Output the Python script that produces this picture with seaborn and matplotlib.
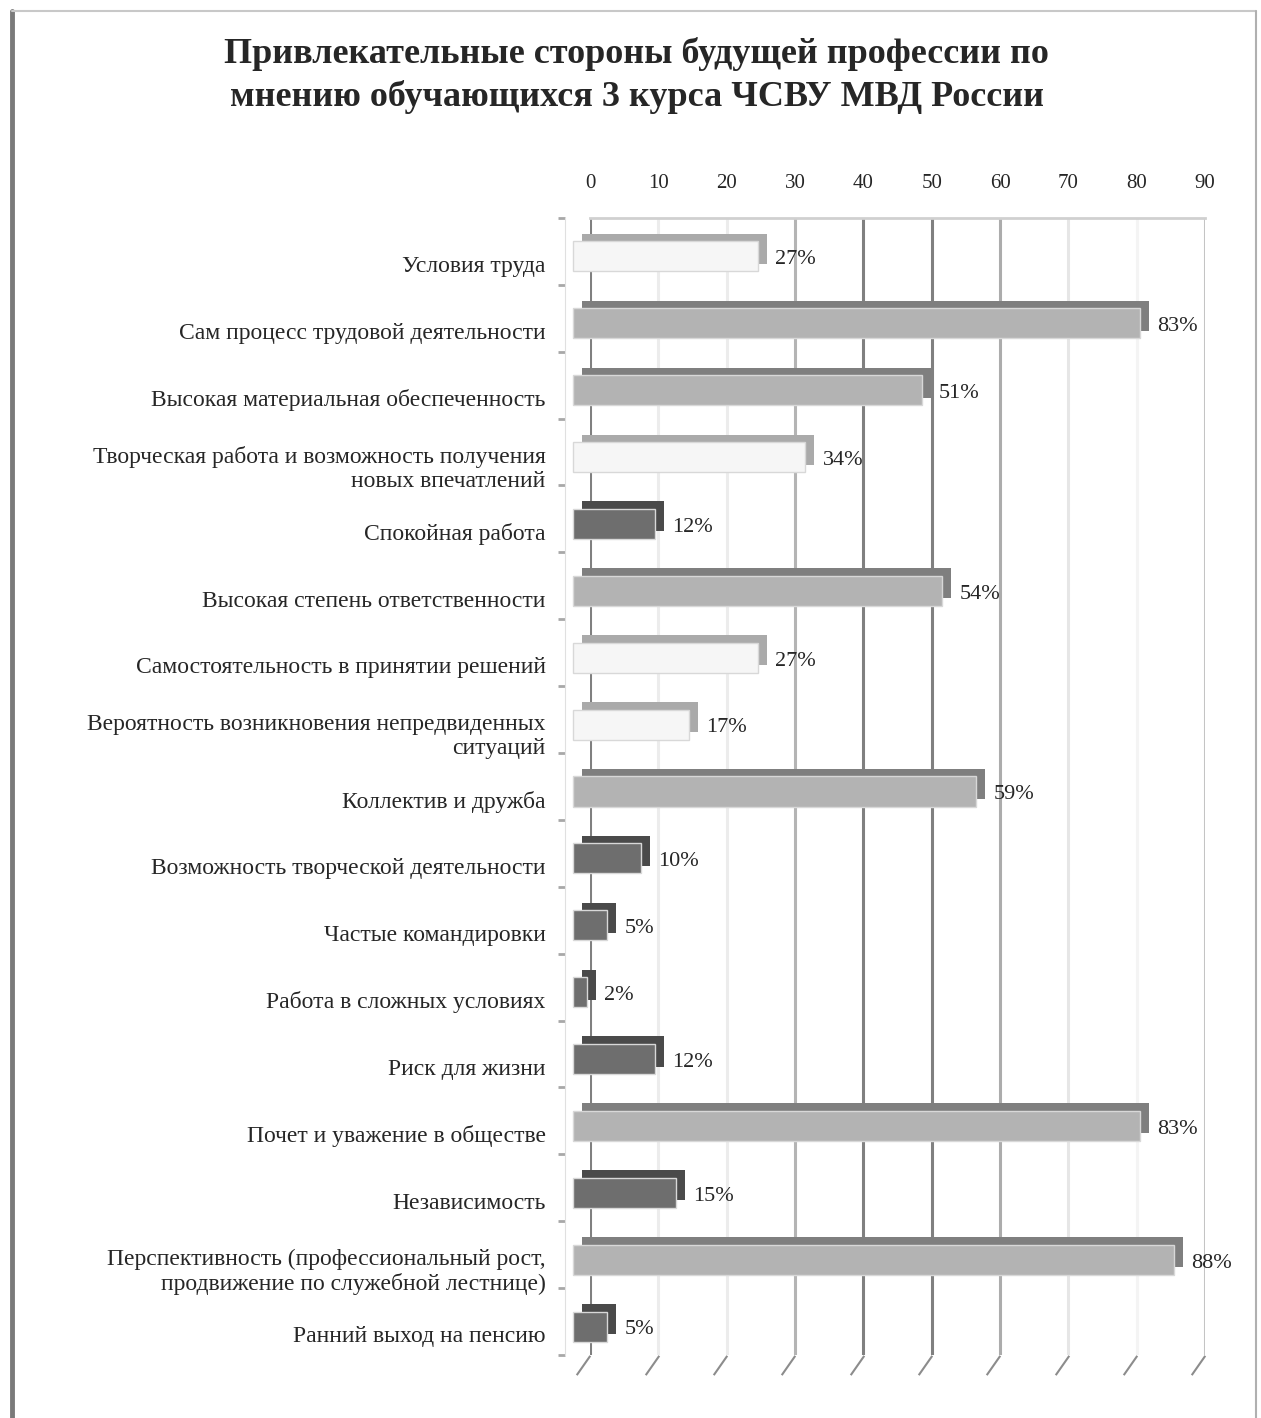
import numpy as np
import pandas as pd
import seaborn as sns
import matplotlib.pyplot as plt
from matplotlib.lines import Line2D
from matplotlib.transforms import ScaledTranslation

title = ("Привлекательные стороны будущей профессии по\n"
         "мнению обучающихся 3 курса ЧСВУ МВД России")

labels = [
    "Условия труда",
    "Сам процесс трудовой деятельности",
    "Высокая материальная обеспеченность",
    "Творческая работа и возможность получения\nновых впечатлений",
    "Спокойная работа",
    "Высокая степень ответственности",
    "Самостоятельность в принятии решений",
    "Вероятность возникновения непредвиденных\nситуаций",
    "Коллектив и дружба",
    "Возможность творческой деятельности",
    "Частые командировки",
    "Работа в сложных условиях",
    "Риск для жизни",
    "Почет и уважение в обществе",
    "Независимость",
    "Перспективность (профессиональный рост,\nпродвижение по служебной лестнице)",
    "Ранний выход на пенсию",
]
values = [27, 83, 51, 34, 12, 54, 27, 17, 59, 10, 5, 2, 12, 83, 15, 88, 5]
levels = ["средний", "высокий", "высокий", "средний", "низкий", "высокий",
          "средний", "средний", "высокий", "низкий", "низкий", "низкий",
          "низкий", "высокий", "низкий", "высокий", "низкий"]
ticks = [0, 10, 20, 30, 40, 50, 60, 70, 80, 90]

# front face / 3d depth colours per group
front_colors = {"низкий": "#6e6e6e", "средний": "#f6f6f6", "высокий": "#b3b3b3"}
depth_colors = {"низкий": "#4a4a4a", "средний": "#aaaaaa", "высокий": "#7f7f7f"}
grid_colors = ["#808080", "#ececec", "#ececec", "#b4b4b4", "#808080",
               "#808080", "#acacac", "#e6e6e6", "#f4f4f4", "#c4c4c4"]

df = pd.DataFrame({"label": labels, "value": values, "level": levels})

sns.set_style("white")
plt.rcParams["font.family"] = ["Liberation Serif", "DejaVu Serif"]

fig = plt.figure(figsize=(12.61, 14.18), dpi=100)
ax = fig.add_axes([0.468, 0.0444, 0.4877, 0.8019])

for t, c in zip(ticks, grid_colors):
    ax.axvline(t, color=c, lw=2.2, zorder=0)

# depth (back) of the bars
sns.barplot(data=df, x="value", y="label", hue="level", palette=depth_colors,
            dodge=False, width=0.45, errorbar=None, legend=False,
            saturation=1, linewidth=0, ax=ax)
depth_off = ax.transData + ScaledTranslation(-0.08, 0.025, fig.dpi_scale_trans)
for p in ax.patches:
    p.set_transform(depth_off)
    p.set_clip_on(False)
n = len(ax.patches)

# front face of the bars
sns.barplot(data=df, x="value", y="label", hue="level", palette=front_colors,
            dodge=False, width=0.45, errorbar=None, legend=False,
            saturation=1, linewidth=1, edgecolor="#d8d8d8", ax=ax)
front_off = ax.transData + ScaledTranslation(-0.17, -0.05, fig.dpi_scale_trans)
for p in ax.patches[n:]:
    p.set_transform(front_off)
    p.set_clip_on(False)

for i, v in enumerate(values):
    ax.text(v + 2.5, i + 0.05, f"{v}%", transform=front_off, ha="left",
            va="center", fontsize=16, clip_on=False)

# slanted floor ticks
ax.plot(ticks, [16.5] * len(ticks), ls="none", marker=(2, 0, -35), ms=17,
        mew=1.5, mec="#8c8c8c", clip_on=False,
        transform=ax.transData + ScaledTranslation(-0.067, -0.095, fig.dpi_scale_trans))

ax.set_xlim(0, 90)
ax.set_ylim(16.5, -0.5)
ax.set_xlabel("")
ax.set_ylabel("")
ax.xaxis.tick_top()
ax.set_xticks(ticks)
ax.tick_params(axis="x", length=0, pad=18, labelsize=15)

ax.set_yticks(np.arange(len(labels)) + 0.19, labels=labels)
ax.set_yticks(np.arange(len(labels) + 1) - 0.5, minor=True)
ax.tick_params(axis="y", which="major", length=0, pad=14, labelsize=17)
ax.tick_params(axis="y", which="minor", left=True, length=5, width=2,
               color="#a8a8a8", direction="out")
for lbl in ax.get_yticklabels():
    lbl.set_multialignment("center")

ax.spines["left"].set_position(("outward", 18))
ax.spines["left"].set_color("#e0e0e0")
ax.spines["top"].set_visible(True)
ax.spines["top"].set_color("#d0d0d0")
ax.spines["top"].set_linewidth(2)
ax.spines["right"].set_visible(False)
ax.spines["bottom"].set_visible(False)

fig.text(0.505, 0.9465, title, ha="center", va="center", fontsize=26,
         fontweight="bold", linespacing=1.35)

# outer frame
fig.add_artist(Line2D([0.0095, 0.0095], [0, 0.992], transform=fig.transFigure,
                      color="#7a7a7a", lw=3.5))
fig.add_artist(Line2D([0.0095, 0.996], [0.992, 0.992], transform=fig.transFigure,
                      color="#c8c8c8", lw=1.5))
fig.add_artist(Line2D([0.996, 0.996], [0, 0.992], transform=fig.transFigure,
                      color="#b0b0b0", lw=1.5))

fig.savefig("out.png", dpi=100)
plt.close(fig)
